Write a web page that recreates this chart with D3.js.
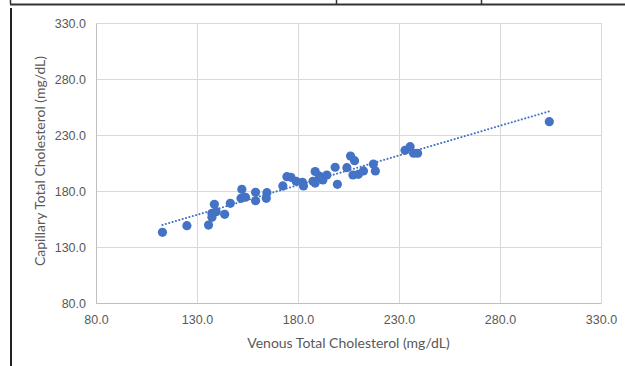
<!DOCTYPE html>
<html>
<head>
<meta charset="utf-8">
<script src="https://cdn.jsdelivr.net/npm/d3@7"></script>
<style>
  body { margin: 0; background: #fff; }
  svg { display: block; font-family: Lato, "Open Sans", sans-serif; }
</style>
</head>
<body>
<div id="canvas"></div>
<script>
// venous (x) and capillary (y) total cholesterol, mg/dL
var venous = [112.9, 125.0, 135.7, 138.6, 137.4, 139.5, 137.4, 143.7, 146.5, 152.2,
              151.8, 154.0, 159.0, 159.0, 164.6, 164.3, 172.5, 174.5, 176.5, 179.1,
              182.2, 182.7, 187.4, 188.5, 188.5, 190.6, 192.3, 194.3, 198.4, 199.5,
              204.2, 206.0, 208.0, 207.2, 209.9, 212.4, 217.3, 218.3, 233.0, 235.5,
              237.2, 239.2, 304.4];
var capillary = [143.1, 149.0, 149.6, 168.1, 160.1, 161.5, 156.5, 159.2, 169.0, 181.5,
                 173.5, 174.4, 178.8, 171.3, 178.5, 173.5, 184.5, 192.8, 192.2, 188.6,
                 187.7, 184.5, 188.6, 197.4, 187.1, 193.4, 189.8, 194.3, 201.2, 186.0,
                 200.8, 211.2, 207.1, 194.3, 194.9, 197.9, 204.1, 197.9, 216.3, 219.6,
                 213.7, 213.7, 241.9];
var xTicks = [80, 130, 180, 230, 280, 330];
var yTicks = [80, 130, 180, 230, 280, 330];
var xTitle = "Venous Total Cholesterol (mg/dL)";
var yTitle = "Capillary Total Cholesterol (mg/dL)";

var W = 625, H = 366;
var margin = {top: 23, right: 24, bottom: 63, left: 96};
var width = W - margin.left - margin.right;
var height = H - margin.top - margin.bottom;

var svg = d3.select("#canvas").append("svg")
    .attr("width", W)
    .attr("height", H);

// frame of the page around the chart
svg.append("line").attr("x1", 10).attr("x2", W).attr("y1", 4.5).attr("y2", 4.5)
    .attr("stroke", "#333").attr("stroke-width", 2);
[10.5, 336.5, 481.5].forEach(function(x) {
    svg.append("line").attr("x1", x).attr("x2", x).attr("y1", 0).attr("y2", 4)
        .attr("stroke", "#333").attr("stroke-width", 1.5);
});
svg.append("line").attr("x1", 11).attr("x2", 11).attr("y1", 8).attr("y2", H)
    .attr("stroke", "#222").attr("stroke-width", 2);

var g = svg.append("g")
    .attr("transform", "translate(" + margin.left + "," + margin.top + ")");

var xScale = d3.scaleLinear().domain([80, 330]).range([0, width]);
var yScale = d3.scaleLinear().domain([80, 330]).range([height, 0]);

// gridlines
g.append("g").selectAll("line").data(xTicks).enter().append("line")
    .attr("x1", function(d) { return Math.round(xScale(d)) + 0.5; })
    .attr("x2", function(d) { return Math.round(xScale(d)) + 0.5; })
    .attr("y1", 0).attr("y2", height)
    .attr("stroke", "#d9d9d9");
g.append("g").selectAll("line").data(yTicks).enter().append("line")
    .attr("y1", function(d) { return Math.round(yScale(d)) + 0.5; })
    .attr("y2", function(d) { return Math.round(yScale(d)) + 0.5; })
    .attr("x1", 0).attr("x2", width)
    .attr("stroke", "#d9d9d9");

// axes
var xAxis = d3.axisBottom(xScale).tickValues(xTicks).tickSize(0).tickPadding(12)
    .tickFormat(d3.format(".1f"));
var yAxis = d3.axisLeft(yScale).tickValues(yTicks).tickSize(0).tickPadding(10)
    .tickFormat(d3.format(".1f"));

var gx = g.append("g")
    .attr("transform", "translate(0," + height + ")")
    .call(xAxis);
var gy = g.append("g").call(yAxis);
[gx, gy].forEach(function(a) {
    a.select(".domain").attr("stroke", "#bfbfbf");
    a.selectAll("text").attr("fill", "#595959").style("font-size", "12.5px");
});

// linear trendline (least squares)
var mx = d3.mean(venous), my = d3.mean(capillary);
var sxy = d3.sum(venous, function(v, i) { return (v - mx) * (capillary[i] - my); });
var sxx = d3.sum(venous, function(v) { return (v - mx) * (v - mx); });
var slope = sxy / sxx, intercept = my - slope * mx;
var xExt = d3.extent(venous);

g.append("line")
    .attr("x1", xScale(xExt[0])).attr("y1", yScale(intercept + slope * xExt[0]))
    .attr("x2", xScale(xExt[1])).attr("y2", yScale(intercept + slope * xExt[1]))
    .attr("stroke", "#4472c4")
    .attr("stroke-width", 2)
    .attr("stroke-linecap", "round")
    .attr("stroke-dasharray", "0.1,3.4");

// points
g.append("g").selectAll("circle").data(venous).enter().append("circle")
    .attr("cx", function(d) { return xScale(d); })
    .attr("cy", function(d, i) { return yScale(capillary[i]); })
    .attr("r", 4.6)
    .attr("fill", "#4472c4");

// axis titles
g.append("text")
    .attr("x", width / 2)
    .attr("y", height + 45)
    .attr("text-anchor", "middle")
    .attr("fill", "#595959")
    .style("font-size", "14px")
    .text(xTitle);

g.append("text")
    .attr("transform", "rotate(-90)")
    .attr("x", -height / 2 + 2)
    .attr("y", -51)
    .attr("text-anchor", "middle")
    .attr("fill", "#595959")
    .style("font-size", "14px")
    .text(yTitle);
</script>
</body>
</html>
